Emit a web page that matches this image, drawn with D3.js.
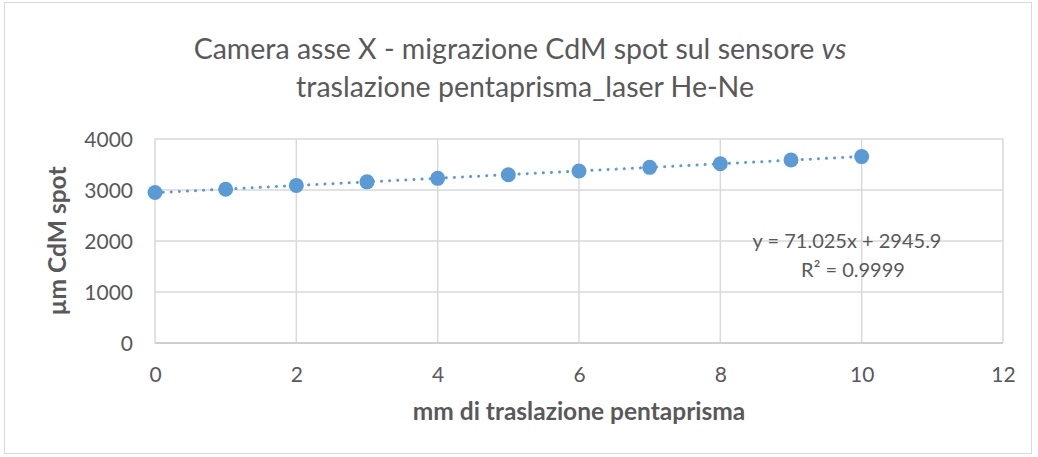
<!DOCTYPE html>
<html>
<head>
<meta charset="utf-8">
<title>Camera asse X</title>
<style>
body { margin: 0; background: #fff; }
svg { display: block; font-family: Lato, 'Open Sans', sans-serif; }
</style>
</head>
<body>
<svg width="1038" height="457"></svg>
<script src="https://cdn.jsdelivr.net/npm/d3@7/dist/d3.min.js"></script>
<script>

// data
var xValues = [0, 1, 2, 3, 4, 5, 6, 7, 8, 9, 10];
var yValues = [2950, 3015, 3090, 3160, 3228, 3300, 3372, 3444, 3516, 3588, 3655];
var xTicks = [0, 2, 4, 6, 8, 10, 12];
var yTicks = [0, 1000, 2000, 3000, 4000];
var fit = { slope: 71.025, intercept: 2945.9 };

var titleLines = ["Camera asse X - migrazione CdM spot sul sensore ", "traslazione pentaprisma_laser He-Ne"];

var svg = d3.select("svg"),
    width = +svg.attr("width"),
    height = +svg.attr("height");

var plot = { left: 155, right: 1003, top: 139, bottom: 343 };
var font = "Lato, 'Open Sans', sans-serif";

var x = d3.scaleLinear().domain([0, 12]).range([plot.left, plot.right]);
var y = d3.scaleLinear().domain([0, 4000]).range([plot.bottom, plot.top]);

// outer frame
svg.append("rect")
    .attr("x", 4.5).attr("y", 2.5)
    .attr("width", 1027).attr("height", 451)
    .attr("fill", "#fff")
    .attr("stroke", "#d9d9d9");

// title
var title = svg.append("text")
    .attr("x", 520).attr("y", 59)
    .attr("text-anchor", "middle")
    .attr("fill", "#595959")
    .style("font-size", "28.5px");
title.append("tspan").text(titleLines[0]);
title.append("tspan").style("font-style", "italic").text("vs");
svg.append("text")
    .attr("x", 525).attr("y", 97)
    .attr("text-anchor", "middle")
    .attr("fill", "#595959")
    .style("font-size", "28.5px")
    .text(titleLines[1]);

// gridlines
svg.append("g")
  .selectAll("line")
    .data(yTicks)
  .enter().append("line")
    .attr("x1", plot.left).attr("x2", plot.right)
    .attr("y1", function(d) { return y(d); })
    .attr("y2", function(d) { return y(d); })
    .attr("stroke", function(d) { return d === 0 ? "#bfbfbf" : "#d9d9d9"; })
    .attr("stroke-width", 1.5);

svg.append("g")
  .selectAll("line")
    .data(xTicks)
  .enter().append("line")
    .attr("x1", function(d) { return x(d); })
    .attr("x2", function(d) { return x(d); })
    .attr("y1", plot.top).attr("y2", plot.bottom)
    .attr("stroke", "#d9d9d9")
    .attr("stroke-width", 1.5);

// axes (labels only)
var xAxis = svg.append("g")
    .attr("transform", "translate(0," + plot.bottom + ")")
    .call(d3.axisBottom(x).tickValues(xTicks).tickSize(0).tickPadding(0).tickFormat(d3.format("d")));
var yAxis = svg.append("g")
    .attr("transform", "translate(" + plot.left + ",0)")
    .call(d3.axisLeft(y).tickValues(yTicks).tickSize(0).tickPadding(22).tickFormat(d3.format("d")));
[xAxis, yAxis].forEach(function(a) {
  a.select(".domain").remove();
  a.selectAll("text")
      .attr("fill", "#595959")
      .style("font-size", "21px")
      .style("font-family", font);
});
xAxis.selectAll("text").attr("dy", null).attr("y", 39);
yAxis.selectAll("text").attr("dy", "0.36em");

// axis titles
svg.append("text")
    .attr("x", 579).attr("y", 420)
    .attr("text-anchor", "middle")
    .attr("fill", "#595959")
    .style("font-size", "24.5px")
    .style("font-weight", "bold")
    .text("mm di traslazione pentaprisma");

svg.append("text")
    .attr("transform", "translate(66,241) rotate(-90)")
    .attr("text-anchor", "middle")
    .attr("fill", "#595959")
    .style("font-size", "24.5px")
    .style("font-weight", "bold")
    .text("µm CdM spot");

// trendline
var line = d3.line()
    .x(function(d) { return x(d); })
    .y(function(d) { return y(fit.slope * d + fit.intercept); });
svg.append("path")
    .datum([xValues[0], xValues[xValues.length - 1]])
    .attr("d", line)
    .attr("fill", "none")
    .attr("stroke", "#5b9bd5")
    .attr("stroke-width", 3)
    .attr("stroke-linecap", "round")
    .attr("stroke-dasharray", "0.1,8");

// points
svg.append("g")
  .selectAll("circle")
    .data(xValues)
  .enter().append("circle")
    .attr("cx", function(d) { return x(d); })
    .attr("cy", function(d, i) { return y(yValues[i]); })
    .attr("r", 7.5)
    .attr("fill", "#5b9bd5");

// equation
var eq = svg.append("g").attr("fill", "#595959").style("font-size", "20px");
eq.append("text")
    .attr("x", 847).attr("y", 248)
    .attr("text-anchor", "middle")
    .text("y = " + fit.slope + "x + " + fit.intercept);
eq.append("text")
    .attr("x", 853).attr("y", 277)
    .attr("text-anchor", "middle")
    .text("R² = 0.9999");

</script>
</body>
</html>
